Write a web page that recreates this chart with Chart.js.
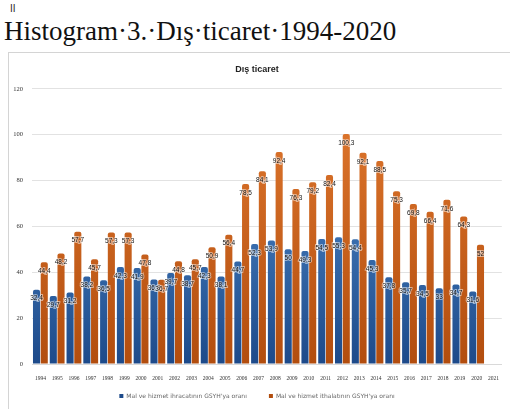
<!DOCTYPE html>
<html>
<head>
<meta charset="utf-8">
<script src="https://cdn.jsdelivr.net/npm/chart.js@4.4.1/dist/chart.umd.min.js"></script>
<style>
  body { margin: 0; width: 510px; height: 409px; background: #fff; position: relative; overflow: hidden; }
  #mark  { position: absolute; left: 10px; top: 3px; font: 10px "DejaVu Sans", sans-serif; color: #222; }
  #head  { position: absolute; left: 4px; top: 16px; font: 27px "Liberation Serif", serif; color: #111; white-space: nowrap; }
  #box   { position: absolute; left: 8px; top: 52px; width: 502px; height: 357px;
           border-top: 1px solid #d4d4d4; border-left: 1px solid #d4d4d4; box-sizing: border-box; }
  #chart { position: absolute; left: 0; top: 0; }
</style>
</head>
<body>
<div id="mark">ll</div>
<div id="head">Histogram·3.·Dış·ticaret·1994-2020</div>
<div id="box"><canvas id="chart" width="501" height="356"></canvas></div>
<script>
/* ── veriler ── */
const years   = ['1994','1995','1996','1997','1998','1999','2000','2001','2002','2003','2004','2005','2006','2007',
                 '2008','2009','2010','2011','2012','2013','2014','2015','2016','2017','2018','2019','2020','2021'];
const ihracat = [32.4, 29.7, 31.2, 38.2, 36.5, 42.3, 41.9, 36.8, 39.7, 38.7, 42.3, 38.1, 44.7, 52.3,
                 53.9, 50.0, 49.3, 54.5, 55.3, 54.4, 45.3, 37.8, 35.7, 34.5, 33.0, 34.7, 31.6, null];
const ithalat = [44.4, 48.2, 57.7, 45.7, 57.3, 57.3, 47.8, 36.7, 44.8, 45.7, 50.9, 56.4, 78.5, 84.1,
                 92.4, 76.3, 79.2, 82.4, 100.3, 92.1, 88.5, 75.3, 69.8, 66.4, 71.6, 64.3, 52.0, null];
const yTicks  = [0, 20, 40, 60, 80, 100, 120];

const fmt = v => v.toLocaleString('tr-TR', { maximumFractionDigits: 1 });

function grad(ctx, top, bottom) {
  const area = ctx.chart.chartArea;
  if (!area) return top;
  const g = ctx.chart.ctx.createLinearGradient(0, area.top, 0, area.bottom);
  g.addColorStop(0, top);
  g.addColorStop(1, bottom);
  return g;
}

/* ── çubuk üstü etiketler ── */
const barLabels = {
  id: 'barLabels',
  afterDatasetsDraw(chart) {
    const c = chart.ctx;
    c.save();
    c.font = '6.5px "Liberation Sans", sans-serif';
    c.textAlign = 'center';
    c.textBaseline = 'middle';
    chart.data.datasets.forEach((ds, i) => {
      chart.getDatasetMeta(i).data.forEach((bar, j) => {
        const v = ds.data[j];
        if (v == null) return;
        c.lineWidth = 2;
        c.strokeStyle = 'rgba(255,255,255,0.5)';
        c.strokeText(fmt(v), bar.x, bar.y + 9);
        c.fillStyle = '#151515';
        c.fillText(fmt(v), bar.x, bar.y + 9);
      });
    });
    c.restore();
  },
};

new Chart(document.getElementById('chart'), {
  type: 'bar',
  data: {
    labels: years,
    datasets: [
      {
        label: "Mal ve hizmet ihracatının GSYH'ya oranı          ",
        data: ihracat,
        backgroundColor: ctx => grad(ctx, '#5a98d8', '#1d4a8a'),
        borderRadius: { topLeft: 2, topRight: 2 },
        borderSkipped: 'bottom',
      },
      {
        label: "Mal ve hizmet ithalatının GSYH'ya oranı",
        data: ithalat,
        backgroundColor: ctx => grad(ctx, '#e27a30', '#b24d0e'),
        borderRadius: { topLeft: 2, topRight: 2 },
        borderSkipped: 'bottom',
      },
    ],
  },
  options: {
    responsive: false,
    animation: false,
    categoryPercentage: 0.92,
    barPercentage: 0.92,
    layout: { padding: { left: 0, right: 5, top: 0, bottom: 0 } },
    plugins: {
      title: {
        display: true,
        text: 'Dış ticaret',
        color: '#222',
        font: { family: '"Liberation Sans", sans-serif', size: 9, weight: 'bold' },
        padding: { top: 11, bottom: 14 },
      },
      legend: {
        position: 'bottom',
        labels: {
          color: '#666',
          font: { family: '"DejaVu Sans", sans-serif', size: 6 },
          boxWidth: 4, boxHeight: 4, padding: 3,
        },
      },
      tooltip: { enabled: false },
    },
    scales: {
      x: {
        afterFit: s => { s.height = 26; },
        grid: { display: false, drawTicks: false },
        border: { display: true, color: '#d9d9d9' },
        ticks: {
          color: '#333', padding: 11, maxRotation: 0, autoSkip: false,
          font: { family: '"Liberation Serif", serif', size: 5.5 },
        },
      },
      y: {
        min: 0, max: 120,
        afterBuildTicks: s => { s.ticks = yTicks.map(v => ({ value: v })); },
        afterFit: s => { s.width = 23; },
        grid: { color: '#e2e2e2', drawTicks: false },
        border: { display: false },
        ticks: {
          color: '#333', padding: 9,
          font: { family: '"Liberation Serif", serif', size: 6.5 },
        },
      },
    },
  },
  plugins: [barLabels],
});
</script>
</body>
</html>
